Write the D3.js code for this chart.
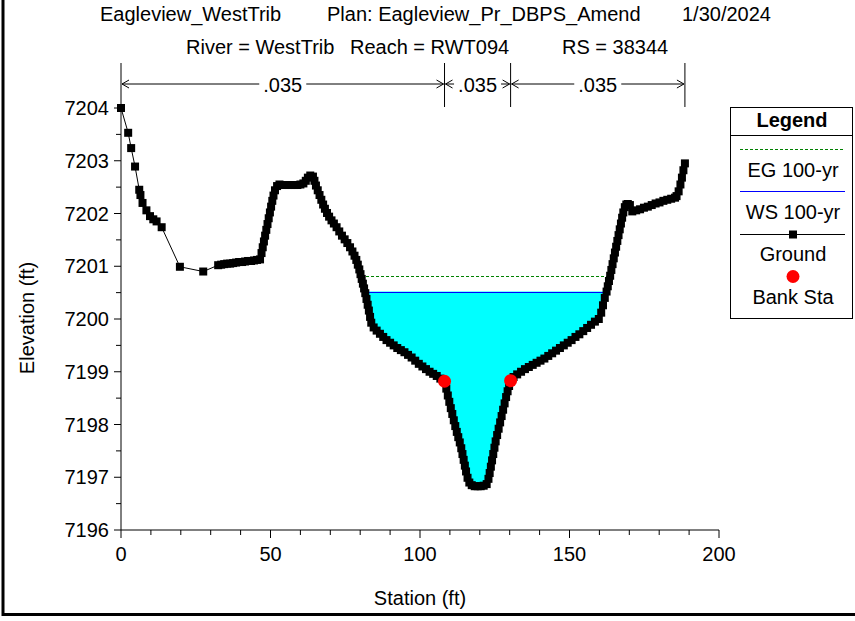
<!DOCTYPE html>
<html><head><meta charset="utf-8">
<script src="https://cdn.jsdelivr.net/npm/d3@7"></script>
<style>
html,body{margin:0;padding:0;background:#fff;}
text{font-family:Arial,"Liberation Sans",sans-serif;fill:#000;}
</style></head>
<body><svg id="c" width="855" height="621"></svg>
<script>
// ---- data ----
const titleLine1 = ["Eagleview_WestTrib", "Plan: Eagleview_Pr_DBPS_Amend", "1/30/2024"];
const titleLine2 = ["River = WestTrib", "Reach = RWT094", "RS = 38344"];
const groundSta = [0,2.4,3.4,4.7,6.1,6.5,7.2,8.5,9.7,10.8,11.9,13.6,19.7,27.5,
 32.5,33.5,34.5,35.5,36.5,37.5,38.5,39.5,40.5,41.5,42.5,43.5,44.5,45.5,46.5,
 47.0,47.4,47.8,48.2,48.6,49.0,49.4,49.8,50.2,50.6,51.0,51.5,52.2,53.0,54,55,56,57,58,59,60,61,61.8,62.5,63.3,
 64.2,64.7,65.2,65.8,66.4,67,67.6,68.2,68.9,69.6,70.4,71.2,72.1,73,73.9,74.8,75.7,76.6,77.4,78.1,78.7,
 79.2,79.7,80.1,80.5,80.9,81.3,81.7,82.1,82.5,82.9,83.3,83.7,
 84.5,85.5,86.6,87.7,88.8,90,91.2,92.4,93.6,94.8,96,97.2,98.4,99.6,100.8,102,103.2,104.4,105.6,106.8,108.2,
 108.8,109.3,109.8,110.3,110.8,111.3,111.8,112.3,112.8,113.3,113.8,114.2,114.6,115.0,115.4,115.9,116.5,117.3,
 118.3,119.3,120.3,121.3,122.3,122.9,123.3,123.7,124.1,124.5,124.9,125.3,125.8,126.3,126.8,127.3,127.8,128.3,
 128.8,129.3,129.8,130.3,
 131.3,132.5,133.8,135.1,136.4,137.7,139,140.3,141.6,142.9,144.2,145.5,146.8,148.1,149.4,150.7,152,153.3,
 154.6,155.9,157.2,158.5,159.8,160.6,161.2,161.8,162.4,
 162.8,163.2,163.6,164.0,164.4,164.8,165.2,165.6,166.0,166.4,166.8,167.2,167.6,168.0,168.5,169.0,169.5,170.2,
 171,172.3,173.6,174.9,176.2,177.5,178.8,180.1,181.4,182.7,184,185.3,185.8,186.5,187.1,187.6,188.1,188.6];
const groundElev = [7204.0,7203.53,7203.24,7202.89,7202.45,7202.35,7202.2,7202.06,7201.95,7201.89,7201.85,7201.74,7200.99,7200.9,
 7201.02,7201.03,7201.04,7201.05,7201.05,7201.06,7201.07,7201.08,7201.08,7201.09,7201.1,7201.1,7201.11,7201.12,7201.13,
 7201.25,7201.36,7201.47,7201.58,7201.69,7201.8,7201.91,7202.02,7202.13,7202.24,7202.34,7202.44,7202.52,7202.55,7202.54,7202.54,7202.54,7202.54,7202.54,7202.54,7202.55,7202.57,7202.62,7202.68,7202.72,
 7202.7,7202.62,7202.53,7202.44,7202.35,7202.26,7202.17,7202.09,7202.01,7201.94,7201.87,7201.81,7201.74,7201.66,7201.58,7201.51,7201.44,7201.36,7201.28,7201.2,7201.12,
 7201.03,7200.94,7200.85,7200.76,7200.67,7200.58,7200.49,7200.38,7200.27,7200.16,7200.04,7199.93,
 7199.84,7199.78,7199.72,7199.66,7199.6,7199.55,7199.5,7199.45,7199.41,7199.37,7199.32,7199.27,7199.21,7199.15,7199.1,7199.05,7199.0,7198.96,7198.92,7198.87,7198.82,
 7198.68,7198.55,7198.43,7198.31,7198.2,7198.08,7197.97,7197.86,7197.76,7197.66,7197.55,7197.44,7197.33,7197.22,7197.11,7196.99,7196.9,7196.85,
 7196.83,7196.83,7196.83,7196.84,7196.87,7196.97,7197.08,7197.2,7197.32,7197.44,7197.56,7197.68,7197.8,7197.92,7198.04,7198.16,7198.28,7198.4,
 7198.52,7198.63,7198.73,7198.83,
 7198.9,7198.95,7199.0,7199.05,7199.09,7199.13,7199.17,7199.21,7199.25,7199.3,7199.35,7199.4,7199.45,7199.5,7199.55,7199.6,7199.66,7199.71,
 7199.77,7199.83,7199.89,7199.95,7200.0,7200.12,7200.26,7200.4,7200.52,
 7200.62,7200.72,7200.82,7200.93,7201.04,7201.15,7201.26,7201.37,7201.48,7201.59,7201.7,7201.81,7201.92,7202.02,7202.12,7202.17,7202.18,7202.16,
 7202.04,7202.06,7202.08,7202.11,7202.13,7202.16,7202.19,7202.21,7202.24,7202.26,7202.28,7202.3,7202.33,7202.42,7202.55,7202.68,7202.82,7202.95];
const bankSta = [108.2, 130.3];
const wsElev = 7200.52;
const egElev = 7200.81;
const nStations = [0, 108.2, 130.3, 188.6];
const nValues = [".035", ".035", ".035"];
const xTicks = [0, 50, 100, 150, 200];
const yTicks = [7196, 7197, 7198, 7199, 7200, 7201, 7202, 7203, 7204];
const legendItems = ["EG 100-yr", "WS 100-yr", "Ground", "Bank Sta"];

// ---- scales ----
const svg = d3.select("#c");
const x = d3.scaleLinear().domain([0, 200]).range([121, 719]);
const y = d3.scaleLinear().domain([7196, 7204]).range([530, 108]);
const ground = groundSta.map((s, i) => [s, groundElev[i]]);

function crossings(level) {
  let iMin = d3.minIndex(groundElev);
  let i = iMin; while (i > 0 && groundElev[i - 1] < level) i--;
  const a = ground[i - 1], b = ground[i];
  const xl = a[0] + (level - a[1]) / (b[1] - a[1]) * (b[0] - a[0]);
  let j = iMin; while (j < ground.length - 1 && groundElev[j + 1] < level) j++;
  const c = ground[j], d = ground[j + 1];
  const xr = c[0] + (level - c[1]) / (d[1] - c[1]) * (d[0] - c[0]);
  return {xl, xr, i, j};
}

// frame
svg.append("line").attr("x1", 3).attr("x2", 3).attr("y1", 0).attr("y2", 616).attr("stroke", "#000").attr("stroke-width", 3);
svg.append("line").attr("x1", 2).attr("x2", 855).attr("y1", 614.5).attr("y2", 614.5).attr("stroke", "#000").attr("stroke-width", 3);

// titles
const t1x = [100, 327, 682], t2x = [186, 350, 562];
titleLine1.forEach((t, i) => svg.append("text").attr("x", t1x[i]).attr("y", 21).attr("font-size", 20).text(t));
titleLine2.forEach((t, i) => svg.append("text").attr("x", t2x[i]).attr("y", 54).attr("font-size", 20).text(t));

// water fill
const ws = crossings(wsElev);
const poly = [[ws.xl, wsElev]].concat(ground.slice(ws.i, ws.j + 1)).concat([[ws.xr, wsElev]]);
svg.append("path").attr("d", d3.line().x(d => x(d[0])).y(d => y(d[1]))(poly) + "Z")
  .attr("fill", "#00ffff").attr("stroke", "none");
const wsY = Math.round(y(wsElev)) + 0.5;
svg.append("line").attr("x1", x(ws.xl)).attr("x2", x(ws.xr)).attr("y1", wsY).attr("y2", wsY)
  .attr("stroke", "#0000ff").attr("stroke-width", 1);
const eg = crossings(egElev);
const egY = Math.round(y(egElev)) + 0.5;
svg.append("line").attr("x1", x(eg.xl)).attr("x2", x(eg.xr)).attr("y1", egY).attr("y2", egY)
  .attr("stroke", "#008000").attr("stroke-width", 1).attr("stroke-dasharray", "3,2");

// axes
const xAxis = svg.append("g").attr("transform", "translate(0,530)");
xAxis.append("line").attr("x1", x(0)).attr("x2", x(200)).attr("stroke", "#000");
d3.range(0, 201, 10).forEach(v => {
  const major = v % 50 === 0;
  xAxis.append("line").attr("x1", x(v)).attr("x2", x(v)).attr("y1", 0).attr("y2", major ? 8 : 5).attr("stroke", "#000");
});
xTicks.forEach(v => xAxis.append("text").attr("x", x(v)).attr("y", 31).attr("text-anchor", "middle").attr("font-size", 20).text(v));
const yAxis = svg.append("g").attr("transform", "translate(121,0)");
yAxis.append("line").attr("y1", y(7196)).attr("y2", y(7204)).attr("stroke", "#000");
d3.range(0, 17).forEach(k => {
  const v = 7196 + k * 0.5, major = k % 2 === 0;
  yAxis.append("line").attr("x1", major ? -7 : -5).attr("x2", 0).attr("y1", y(v)).attr("y2", y(v)).attr("stroke", "#000");
});
yTicks.forEach(v => yAxis.append("text").attr("x", -12).attr("y", y(v) + 7).attr("text-anchor", "end").attr("font-size", 20).text(v));
svg.append("text").attr("x", 420).attr("y", 605).attr("text-anchor", "middle").attr("font-size", 20).text("Station (ft)");
svg.append("text").attr("transform", "translate(34,318) rotate(-90)").attr("text-anchor", "middle").attr("font-size", 20).text("Elevation (ft)");

// n values
const nY = 84;
nStations.forEach(s => svg.append("line").attr("x1", x(s)).attr("x2", x(s)).attr("y1", 63).attr("y2", 107).attr("stroke", "#000"));
nValues.forEach((v, i) => {
  const a = x(nStations[i]), b = x(nStations[i + 1]), m = (a + b) / 2;
  const tw = 39, gap = 4;
  svg.append("text").attr("x", m).attr("y", nY + 8).attr("text-anchor", "middle").attr("font-size", 20).text(v);
  const l1 = m - tw / 2 - gap, r1 = m + tw / 2 + gap;
  if (l1 > a + 1) svg.append("line").attr("x1", a + 1).attr("x2", l1).attr("y1", nY).attr("y2", nY).attr("stroke", "#000");
  if (r1 < b - 1) svg.append("line").attr("x1", r1).attr("x2", b - 1).attr("y1", nY).attr("y2", nY).attr("stroke", "#000");
  svg.append("path").attr("d", `M${a + 8},${nY - 4}L${a + 1},${nY}L${a + 8},${nY + 4}`).attr("fill", "none").attr("stroke", "#000");
  svg.append("path").attr("d", `M${b - 8},${nY - 4}L${b - 1},${nY}L${b - 8},${nY + 4}`).attr("fill", "none").attr("stroke", "#000");
});

// ground
svg.append("path").attr("d", d3.line().x(d => x(d[0])).y(d => y(d[1]))(ground))
  .attr("fill", "none").attr("stroke", "#000").attr("stroke-width", 1);
svg.append("g").selectAll("rect").data(ground).join("rect")
  .attr("x", d => x(d[0]) - 4).attr("y", d => y(d[1]) - 4).attr("width", 8).attr("height", 8).attr("fill", "#000");

// bank stations
function elevAt(s) { const i = d3.bisectLeft(groundSta, s); if (groundSta[i] === s) return groundElev[i];
  const a = ground[i - 1], b = ground[i]; return a[1] + (s - a[0]) / (b[0] - a[0]) * (b[1] - a[1]); }
svg.append("g").selectAll("circle").data(bankSta).join("circle")
  .attr("cx", d => x(d)).attr("cy", d => y(elevAt(d))).attr("r", 6.5).attr("fill", "#ff0000");

// legend
const lg = svg.append("g");
lg.append("rect").attr("x", 730.5).attr("y", 107.5).attr("width", 122).attr("height", 211).attr("fill", "#fff").attr("stroke", "#000");
lg.append("line").attr("x1", 730).attr("x2", 853).attr("y1", 135.5).attr("y2", 135.5).attr("stroke", "#000");
lg.append("text").attr("x", 792).attr("y", 127).attr("text-anchor", "middle").attr("font-size", 20).attr("font-weight", "bold").text("Legend");
lg.append("line").attr("x1", 740).attr("x2", 845).attr("y1", 149.5).attr("y2", 149.5).attr("stroke", "#008000").attr("stroke-dasharray", "3,2");
lg.append("line").attr("x1", 740).attr("x2", 845).attr("y1", 191.5).attr("y2", 191.5).attr("stroke", "#0000ff").attr("stroke-width", 1);
lg.append("line").attr("x1", 740).attr("x2", 845).attr("y1", 234.5).attr("y2", 234.5).attr("stroke", "#000");
lg.append("rect").attr("x", 789).attr("y", 230.5).attr("width", 8).attr("height", 8).attr("fill", "#000");
lg.append("circle").attr("cx", 793).attr("cy", 276.5).attr("r", 6.5).attr("fill", "#ff0000");
const ly = [177, 219, 261, 304];
legendItems.forEach((t, i) => lg.append("text").attr("x", 793).attr("y", ly[i]).attr("text-anchor", "middle").attr("font-size", 20).text(t));
</script></body></html>
